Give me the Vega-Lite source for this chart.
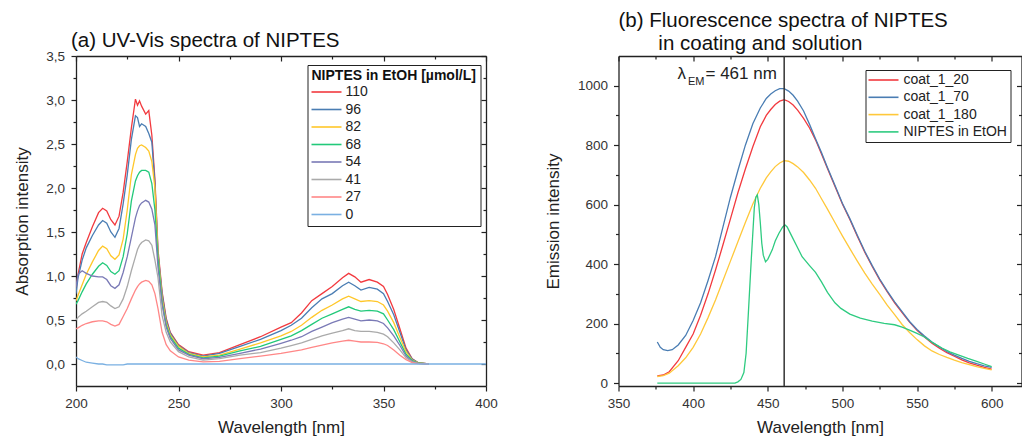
{
  "$schema": "https://vega.github.io/schema/vega-lite/v6.json",
  "padding": {"left": 13, "top": 10, "right": 0, "bottom": 0},
  "background": "white",
  "config": {
    "font": "Liberation Sans",
    "view": {"stroke": null},
    "axis": {"domainColor": "#222", "domainWidth": 1.3, "tickColor": "#222", "tickWidth": 1.2, "labelColor": "#333", "labelFontSize": 13.5, "labelFont": "Liberation Sans", "titleFont": "Liberation Sans", "titleFontSize": 17, "titleFontWeight": "normal", "titleColor": "#222", "grid": false, "labelFlush": false, "labelOverlap": false, "labelBound": false},
    "title": {"font": "Liberation Sans", "fontSize": 20.5, "fontWeight": "normal", "color": "#111", "anchor": "start", "baseline": "bottom"},
    "legend": {"labelFont": "Liberation Sans", "titleFont": "Liberation Sans"}
  },
  "datasets": {
    "uv": [
      {"w": 200, "110": 0.85, "96": 0.80, "82": 0.72, "68": 0.68, "54": 0.88, "41": 0.50, "27": 0.40, "0": 0.08},
      {"w": 201, "110": 1.02, "96": 0.98, "82": 0.78, "68": 0.72, "54": 1.02, "41": 0.53, "27": 0.41, "0": 0.06},
      {"w": 203, "110": 1.25, "96": 1.18, "82": 0.90, "68": 0.82, "54": 1.06, "41": 0.57, "27": 0.44, "0": 0.04},
      {"w": 205, "110": 1.38, "96": 1.32, "82": 1.02, "68": 0.91, "54": 1.03, "41": 0.60, "27": 0.46, "0": 0.02},
      {"w": 208, "110": 1.56, "96": 1.46, "82": 1.16, "68": 1.02, "54": 1.00, "41": 0.65, "27": 0.48, "0": 0.01},
      {"w": 211, "110": 1.72, "96": 1.58, "82": 1.29, "68": 1.11, "54": 0.99, "41": 0.70, "27": 0.49, "0": 0.0},
      {"w": 213, "110": 1.77, "96": 1.63, "82": 1.34, "68": 1.15, "54": 0.99, "41": 0.71, "27": 0.49, "0": 0.0},
      {"w": 215, "110": 1.74, "96": 1.60, "82": 1.31, "68": 1.12, "54": 0.96, "41": 0.70, "27": 0.48, "0": -0.01},
      {"w": 217, "110": 1.64, "96": 1.50, "82": 1.23, "68": 1.05, "54": 0.89, "41": 0.66, "27": 0.45, "0": -0.01},
      {"w": 219, "110": 1.58, "96": 1.44, "82": 1.19, "68": 1.02, "54": 0.86, "41": 0.63, "27": 0.43, "0": -0.01},
      {"w": 221, "110": 1.68, "96": 1.54, "82": 1.24, "68": 1.06, "54": 0.90, "41": 0.65, "27": 0.45, "0": -0.01},
      {"w": 223, "110": 1.95, "96": 1.82, "82": 1.42, "68": 1.22, "54": 1.04, "41": 0.74, "27": 0.54, "0": -0.01},
      {"w": 225, "110": 2.30, "96": 2.15, "82": 1.75, "68": 1.48, "54": 1.22, "41": 0.88, "27": 0.63, "0": 0},
      {"w": 227, "110": 2.68, "96": 2.55, "82": 2.15, "68": 1.85, "54": 1.44, "41": 1.06, "27": 0.74, "0": 0},
      {"w": 229, "110": 3.01, "96": 2.82, "82": 2.38, "68": 2.08, "54": 1.66, "41": 1.22, "27": 0.84, "0": 0},
      {"w": 230, "110": 2.94, "96": 2.80, "82": 2.45, "68": 2.14, "54": 1.74, "41": 1.30, "27": 0.88, "0": 0},
      {"w": 231, "110": 2.99, "96": 2.70, "82": 2.48, "68": 2.18, "54": 1.80, "41": 1.35, "27": 0.91, "0": 0},
      {"w": 232, "110": 2.93, "96": 2.73, "82": 2.49, "68": 2.20, "54": 1.83, "41": 1.38, "27": 0.93, "0": 0},
      {"w": 234, "110": 2.84, "96": 2.70, "82": 2.46, "68": 2.20, "54": 1.86, "41": 1.41, "27": 0.95, "0": 0},
      {"w": 235.5, "110": 2.88, "96": 2.62, "82": 2.42, "68": 2.18, "54": 1.84, "41": 1.40, "27": 0.94, "0": 0},
      {"w": 237, "110": 2.60, "96": 2.52, "82": 2.30, "68": 2.05, "54": 1.76, "41": 1.35, "27": 0.90, "0": 0},
      {"w": 238.5, "110": 2.10, "96": 2.05, "82": 2.00, "68": 1.75, "54": 1.58, "41": 1.18, "27": 0.80, "0": 0},
      {"w": 240, "110": 1.30, "96": 1.26, "82": 1.24, "68": 1.20, "54": 1.10, "41": 0.98, "27": 0.63, "0": 0},
      {"w": 242, "110": 0.82, "96": 0.80, "82": 0.75, "68": 0.70, "54": 0.68, "41": 0.55, "27": 0.36, "0": 0},
      {"w": 244, "110": 0.52, "96": 0.50, "82": 0.47, "68": 0.44, "54": 0.42, "41": 0.36, "27": 0.22, "0": 0},
      {"w": 246, "110": 0.36, "96": 0.35, "82": 0.33, "68": 0.31, "54": 0.29, "41": 0.25, "27": 0.15, "0": 0},
      {"w": 250, "110": 0.22, "96": 0.21, "82": 0.20, "68": 0.18, "54": 0.16, "41": 0.14, "27": 0.08, "0": 0},
      {"w": 255, "110": 0.14, "96": 0.13, "82": 0.12, "68": 0.11, "54": 0.10, "41": 0.08, "27": 0.045, "0": 0},
      {"w": 262, "110": 0.10, "96": 0.09, "82": 0.08, "68": 0.07, "54": 0.06, "41": 0.045, "27": 0.025, "0": 0},
      {"w": 270, "110": 0.13, "96": 0.12, "82": 0.10, "68": 0.09, "54": 0.075, "41": 0.06, "27": 0.03, "0": 0},
      {"w": 280, "110": 0.22, "96": 0.20, "82": 0.17, "68": 0.15, "54": 0.12, "41": 0.10, "27": 0.06, "0": 0},
      {"w": 290, "110": 0.31, "96": 0.28, "82": 0.24, "68": 0.20, "54": 0.17, "41": 0.13, "27": 0.09, "0": 0},
      {"w": 300, "110": 0.42, "96": 0.38, "82": 0.32, "68": 0.28, "54": 0.235, "41": 0.18, "27": 0.12, "0": 0},
      {"w": 305, "110": 0.47, "96": 0.44, "82": 0.37, "68": 0.32, "54": 0.27, "41": 0.21, "27": 0.14, "0": 0},
      {"w": 310, "110": 0.58, "96": 0.52, "82": 0.44, "68": 0.38, "54": 0.31, "41": 0.24, "27": 0.16, "0": 0},
      {"w": 315, "110": 0.72, "96": 0.64, "82": 0.53, "68": 0.45, "54": 0.37, "41": 0.28, "27": 0.19, "0": 0},
      {"w": 320, "110": 0.80, "96": 0.74, "82": 0.61, "68": 0.52, "54": 0.42, "41": 0.32, "27": 0.215, "0": 0},
      {"w": 325, "110": 0.88, "96": 0.80, "82": 0.67, "68": 0.57, "54": 0.47, "41": 0.35, "27": 0.24, "0": 0},
      {"w": 330, "110": 0.98, "96": 0.89, "82": 0.74, "68": 0.62, "54": 0.51, "41": 0.38, "27": 0.26, "0": 0},
      {"w": 333, "110": 1.03, "96": 0.93, "82": 0.77, "68": 0.65, "54": 0.53, "41": 0.40, "27": 0.27, "0": 0},
      {"w": 336, "110": 0.99, "96": 0.89, "82": 0.74, "68": 0.62, "54": 0.51, "41": 0.38, "27": 0.26, "0": 0},
      {"w": 339, "110": 0.93, "96": 0.84, "82": 0.71, "68": 0.60, "54": 0.49, "41": 0.37, "27": 0.25, "0": 0},
      {"w": 343, "110": 0.96, "96": 0.87, "82": 0.72, "68": 0.61, "54": 0.50, "41": 0.37, "27": 0.25, "0": 0},
      {"w": 347, "110": 0.93, "96": 0.85, "82": 0.71, "68": 0.60, "54": 0.49, "41": 0.36, "27": 0.245, "0": 0},
      {"w": 350, "110": 0.88, "96": 0.80, "82": 0.67, "68": 0.57, "54": 0.46, "41": 0.34, "27": 0.23, "0": 0},
      {"w": 352, "110": 0.79, "96": 0.71, "82": 0.60, "68": 0.50, "54": 0.41, "41": 0.31, "27": 0.21, "0": 0},
      {"w": 355, "110": 0.62, "96": 0.56, "82": 0.47, "68": 0.39, "54": 0.32, "41": 0.24, "27": 0.16, "0": 0},
      {"w": 358, "110": 0.40, "96": 0.36, "82": 0.30, "68": 0.25, "54": 0.21, "41": 0.16, "27": 0.10, "0": 0},
      {"w": 361, "110": 0.18, "96": 0.16, "82": 0.14, "68": 0.11, "54": 0.09, "41": 0.07, "27": 0.05, "0": 0},
      {"w": 364, "110": 0.06, "96": 0.055, "82": 0.045, "68": 0.04, "54": 0.03, "41": 0.025, "27": 0.015, "0": 0},
      {"w": 367, "110": 0.015, "96": 0.014, "82": 0.012, "68": 0.01, "54": 0.008, "41": 0.006, "27": 0.004, "0": 0},
      {"w": 372, "110": 0, "96": 0, "82": 0, "68": 0, "54": 0, "41": 0, "27": 0, "0": 0},
      {"w": 400, "110": null, "96": null, "82": null, "68": null, "54": null, "41": null, "27": null, "0": 0}
    ],
    "fl": [
      {"s": "coat_1_20", "w": 376, "v": 24}, {"s": "coat_1_20", "w": 380, "v": 27}, {"s": "coat_1_20", "w": 384, "v": 38}, {"s": "coat_1_20", "w": 390, "v": 75}, {"s": "coat_1_20", "w": 395, "v": 120}, {"s": "coat_1_20", "w": 400, "v": 165}, {"s": "coat_1_20", "w": 405, "v": 228}, {"s": "coat_1_20", "w": 410, "v": 300}, {"s": "coat_1_20", "w": 415, "v": 380}, {"s": "coat_1_20", "w": 420, "v": 465}, {"s": "coat_1_20", "w": 425, "v": 552}, {"s": "coat_1_20", "w": 430, "v": 640}, {"s": "coat_1_20", "w": 435, "v": 720}, {"s": "coat_1_20", "w": 440, "v": 795}, {"s": "coat_1_20", "w": 445, "v": 862}, {"s": "coat_1_20", "w": 449, "v": 900}, {"s": "coat_1_20", "w": 452, "v": 920}, {"s": "coat_1_20", "w": 455, "v": 937}, {"s": "coat_1_20", "w": 458, "v": 948}, {"s": "coat_1_20", "w": 461, "v": 953}, {"s": "coat_1_20", "w": 464, "v": 947}, {"s": "coat_1_20", "w": 467, "v": 935}, {"s": "coat_1_20", "w": 470, "v": 918}, {"s": "coat_1_20", "w": 474, "v": 890}, {"s": "coat_1_20", "w": 478, "v": 858}, {"s": "coat_1_20", "w": 482, "v": 818}, {"s": "coat_1_20", "w": 486, "v": 770}, {"s": "coat_1_20", "w": 490, "v": 722}, {"s": "coat_1_20", "w": 495, "v": 662}, {"s": "coat_1_20", "w": 500, "v": 602}, {"s": "coat_1_20", "w": 505, "v": 550}, {"s": "coat_1_20", "w": 510, "v": 494}, {"s": "coat_1_20", "w": 515, "v": 440}, {"s": "coat_1_20", "w": 520, "v": 392}, {"s": "coat_1_20", "w": 525, "v": 347}, {"s": "coat_1_20", "w": 530, "v": 307}, {"s": "coat_1_20", "w": 535, "v": 270}, {"s": "coat_1_20", "w": 540, "v": 237}, {"s": "coat_1_20", "w": 545, "v": 205}, {"s": "coat_1_20", "w": 550, "v": 177}, {"s": "coat_1_20", "w": 555, "v": 155}, {"s": "coat_1_20", "w": 560, "v": 134}, {"s": "coat_1_20", "w": 565, "v": 117}, {"s": "coat_1_20", "w": 570, "v": 102}, {"s": "coat_1_20", "w": 575, "v": 90}, {"s": "coat_1_20", "w": 580, "v": 78}, {"s": "coat_1_20", "w": 585, "v": 68}, {"s": "coat_1_20", "w": 590, "v": 60}, {"s": "coat_1_20", "w": 595, "v": 53}, {"s": "coat_1_20", "w": 600, "v": 47},
      {"s": "coat_1_70", "w": 376, "v": 138}, {"s": "coat_1_70", "w": 378, "v": 120}, {"s": "coat_1_70", "w": 380, "v": 112}, {"s": "coat_1_70", "w": 383, "v": 109}, {"s": "coat_1_70", "w": 386, "v": 112}, {"s": "coat_1_70", "w": 390, "v": 128}, {"s": "coat_1_70", "w": 395, "v": 160}, {"s": "coat_1_70", "w": 400, "v": 210}, {"s": "coat_1_70", "w": 405, "v": 270}, {"s": "coat_1_70", "w": 410, "v": 345}, {"s": "coat_1_70", "w": 415, "v": 425}, {"s": "coat_1_70", "w": 420, "v": 525}, {"s": "coat_1_70", "w": 425, "v": 625}, {"s": "coat_1_70", "w": 430, "v": 715}, {"s": "coat_1_70", "w": 435, "v": 800}, {"s": "coat_1_70", "w": 440, "v": 872}, {"s": "coat_1_70", "w": 445, "v": 925}, {"s": "coat_1_70", "w": 449, "v": 957}, {"s": "coat_1_70", "w": 452, "v": 972}, {"s": "coat_1_70", "w": 455, "v": 983}, {"s": "coat_1_70", "w": 458, "v": 990}, {"s": "coat_1_70", "w": 461, "v": 990}, {"s": "coat_1_70", "w": 464, "v": 982}, {"s": "coat_1_70", "w": 467, "v": 968}, {"s": "coat_1_70", "w": 470, "v": 948}, {"s": "coat_1_70", "w": 474, "v": 915}, {"s": "coat_1_70", "w": 478, "v": 870}, {"s": "coat_1_70", "w": 482, "v": 822}, {"s": "coat_1_70", "w": 486, "v": 775}, {"s": "coat_1_70", "w": 490, "v": 725}, {"s": "coat_1_70", "w": 495, "v": 665}, {"s": "coat_1_70", "w": 500, "v": 605}, {"s": "coat_1_70", "w": 505, "v": 553}, {"s": "coat_1_70", "w": 510, "v": 497}, {"s": "coat_1_70", "w": 515, "v": 443}, {"s": "coat_1_70", "w": 520, "v": 395}, {"s": "coat_1_70", "w": 525, "v": 350}, {"s": "coat_1_70", "w": 530, "v": 310}, {"s": "coat_1_70", "w": 535, "v": 273}, {"s": "coat_1_70", "w": 540, "v": 240}, {"s": "coat_1_70", "w": 545, "v": 207}, {"s": "coat_1_70", "w": 550, "v": 180}, {"s": "coat_1_70", "w": 555, "v": 158}, {"s": "coat_1_70", "w": 560, "v": 138}, {"s": "coat_1_70", "w": 565, "v": 121}, {"s": "coat_1_70", "w": 570, "v": 106}, {"s": "coat_1_70", "w": 575, "v": 94}, {"s": "coat_1_70", "w": 580, "v": 83}, {"s": "coat_1_70", "w": 585, "v": 73}, {"s": "coat_1_70", "w": 590, "v": 65}, {"s": "coat_1_70", "w": 595, "v": 58}, {"s": "coat_1_70", "w": 600, "v": 53},
      {"s": "coat_1_180", "w": 376, "v": 22}, {"s": "coat_1_180", "w": 380, "v": 25}, {"s": "coat_1_180", "w": 384, "v": 33}, {"s": "coat_1_180", "w": 390, "v": 58}, {"s": "coat_1_180", "w": 395, "v": 85}, {"s": "coat_1_180", "w": 400, "v": 120}, {"s": "coat_1_180", "w": 405, "v": 165}, {"s": "coat_1_180", "w": 410, "v": 220}, {"s": "coat_1_180", "w": 415, "v": 279}, {"s": "coat_1_180", "w": 420, "v": 345}, {"s": "coat_1_180", "w": 425, "v": 410}, {"s": "coat_1_180", "w": 430, "v": 475}, {"s": "coat_1_180", "w": 435, "v": 540}, {"s": "coat_1_180", "w": 440, "v": 602}, {"s": "coat_1_180", "w": 445, "v": 655}, {"s": "coat_1_180", "w": 449, "v": 690}, {"s": "coat_1_180", "w": 452, "v": 710}, {"s": "coat_1_180", "w": 455, "v": 728}, {"s": "coat_1_180", "w": 458, "v": 740}, {"s": "coat_1_180", "w": 461, "v": 748}, {"s": "coat_1_180", "w": 464, "v": 746}, {"s": "coat_1_180", "w": 467, "v": 738}, {"s": "coat_1_180", "w": 470, "v": 727}, {"s": "coat_1_180", "w": 474, "v": 708}, {"s": "coat_1_180", "w": 478, "v": 683}, {"s": "coat_1_180", "w": 482, "v": 655}, {"s": "coat_1_180", "w": 486, "v": 620}, {"s": "coat_1_180", "w": 490, "v": 585}, {"s": "coat_1_180", "w": 495, "v": 540}, {"s": "coat_1_180", "w": 500, "v": 495}, {"s": "coat_1_180", "w": 505, "v": 452}, {"s": "coat_1_180", "w": 510, "v": 410}, {"s": "coat_1_180", "w": 515, "v": 370}, {"s": "coat_1_180", "w": 520, "v": 333}, {"s": "coat_1_180", "w": 525, "v": 298}, {"s": "coat_1_180", "w": 530, "v": 262}, {"s": "coat_1_180", "w": 535, "v": 230}, {"s": "coat_1_180", "w": 540, "v": 197}, {"s": "coat_1_180", "w": 545, "v": 170}, {"s": "coat_1_180", "w": 550, "v": 146}, {"s": "coat_1_180", "w": 555, "v": 125}, {"s": "coat_1_180", "w": 560, "v": 108}, {"s": "coat_1_180", "w": 565, "v": 96}, {"s": "coat_1_180", "w": 570, "v": 86}, {"s": "coat_1_180", "w": 575, "v": 77}, {"s": "coat_1_180", "w": 580, "v": 69}, {"s": "coat_1_180", "w": 585, "v": 62}, {"s": "coat_1_180", "w": 590, "v": 55}, {"s": "coat_1_180", "w": 595, "v": 49}, {"s": "coat_1_180", "w": 600, "v": 44},
      {"s": "NIPTES in EtOH", "w": 376, "v": 0}, {"s": "NIPTES in EtOH", "w": 400, "v": 0}, {"s": "NIPTES in EtOH", "w": 420, "v": 0}, {"s": "NIPTES in EtOH", "w": 428, "v": 0}, {"s": "NIPTES in EtOH", "w": 430, "v": 4}, {"s": "NIPTES in EtOH", "w": 432, "v": 12}, {"s": "NIPTES in EtOH", "w": 434, "v": 35}, {"s": "NIPTES in EtOH", "w": 435.5, "v": 100}, {"s": "NIPTES in EtOH", "w": 437, "v": 235}, {"s": "NIPTES in EtOH", "w": 439, "v": 420}, {"s": "NIPTES in EtOH", "w": 441, "v": 590}, {"s": "NIPTES in EtOH", "w": 442, "v": 625}, {"s": "NIPTES in EtOH", "w": 443, "v": 633}, {"s": "NIPTES in EtOH", "w": 444, "v": 600}, {"s": "NIPTES in EtOH", "w": 445, "v": 540}, {"s": "NIPTES in EtOH", "w": 446, "v": 470}, {"s": "NIPTES in EtOH", "w": 447, "v": 430}, {"s": "NIPTES in EtOH", "w": 448.5, "v": 408}, {"s": "NIPTES in EtOH", "w": 450, "v": 416}, {"s": "NIPTES in EtOH", "w": 453, "v": 448}, {"s": "NIPTES in EtOH", "w": 455, "v": 478}, {"s": "NIPTES in EtOH", "w": 457.5, "v": 504}, {"s": "NIPTES in EtOH", "w": 460, "v": 525}, {"s": "NIPTES in EtOH", "w": 461.5, "v": 532}, {"s": "NIPTES in EtOH", "w": 463, "v": 525}, {"s": "NIPTES in EtOH", "w": 466, "v": 495}, {"s": "NIPTES in EtOH", "w": 470, "v": 455}, {"s": "NIPTES in EtOH", "w": 473, "v": 425}, {"s": "NIPTES in EtOH", "w": 478, "v": 395}, {"s": "NIPTES in EtOH", "w": 482, "v": 372}, {"s": "NIPTES in EtOH", "w": 486, "v": 340}, {"s": "NIPTES in EtOH", "w": 490, "v": 305}, {"s": "NIPTES in EtOH", "w": 495, "v": 270}, {"s": "NIPTES in EtOH", "w": 499, "v": 251}, {"s": "NIPTES in EtOH", "w": 505, "v": 232}, {"s": "NIPTES in EtOH", "w": 512, "v": 218}, {"s": "NIPTES in EtOH", "w": 520, "v": 208}, {"s": "NIPTES in EtOH", "w": 528, "v": 201}, {"s": "NIPTES in EtOH", "w": 535, "v": 196}, {"s": "NIPTES in EtOH", "w": 540, "v": 188}, {"s": "NIPTES in EtOH", "w": 545, "v": 178}, {"s": "NIPTES in EtOH", "w": 550, "v": 167}, {"s": "NIPTES in EtOH", "w": 555, "v": 155}, {"s": "NIPTES in EtOH", "w": 561, "v": 134}, {"s": "NIPTES in EtOH", "w": 567, "v": 117}, {"s": "NIPTES in EtOH", "w": 572, "v": 105}, {"s": "NIPTES in EtOH", "w": 578, "v": 94}, {"s": "NIPTES in EtOH", "w": 584, "v": 83}, {"s": "NIPTES in EtOH", "w": 590, "v": 73}, {"s": "NIPTES in EtOH", "w": 595, "v": 64}, {"s": "NIPTES in EtOH", "w": 600, "v": 55}
    ],
    "lam": [{"w": 389.5, "v": 1021, "t": "λ"}],
    "sub": [{"w": 396.5, "v": 1002, "t": "EM"}],
    "eq": [{"w": 408.3, "v": 1021, "t": "= 461 nm"}],
    "line461": [{"w": 461}]
  },
  "bounds": "flush",
  "spacing": 132.5,
  "resolve": {"scale": {"color": "independent", "x": "independent", "y": "independent"}, "legend": {"color": "independent"}},
  "hconcat": [
    {
      "width": 410,
      "height": 330,
      "title": {"text": "(a) UV-Vis spectra of NIPTES", "offset": -2, "dx": -5, "frame": "group"},
      "layer": [
        {
          "data": {"name": "uv"},
          "transform": [{"fold": ["110", "96", "82", "68", "54", "41", "27", "0"], "as": ["conc", "a"]}],
          "mark": {"type": "line", "strokeWidth": 1.3, "clip": true},
          "encoding": {
            "x": {"field": "w", "type": "quantitative", "scale": {"domain": [200, 400], "nice": false, "zero": false},
              "axis": {"orient": "bottom", "title": "Wavelength [nm]", "values": [200, 225, 250, 275, 300, 325, 350, 375, 400],
                "tickSize": {"condition": {"test": "datum.value % 50 != 0", "value": 3}, "value": 5},
                "labelExpr": "datum.value % 50 == 0 ? datum.label : ''", "labelPadding": 5, "titlePadding": 10}},
            "y": {"field": "a", "type": "quantitative", "scale": {"domain": [-0.25, 3.5], "nice": false, "zero": false},
              "axis": {"orient": "left", "title": "Absorption intensity", "values": [0, 0.25, 0.5, 0.75, 1, 1.25, 1.5, 1.75, 2, 2.25, 2.5, 2.75, 3, 3.25, 3.5],
                "tickSize": {"condition": {"test": "abs(datum.value*2 - round(datum.value*2)) > 0.01", "value": 3}, "value": 5},
                "labelExpr": "abs(datum.value*2 - round(datum.value*2)) > 0.01 ? '' : replace(format(datum.value, '.1f'), '.', ',')",
                "labelPadding": 6.5, "titlePadding": 14}},
            "color": {"field": "conc", "type": "nominal",
              "scale": {"domain": ["110", "96", "82", "68", "54", "41", "27", "0"], "range": ["#f23a3f", "#4a7db3", "#ffc72a", "#22c97a", "#7a7ab6", "#aaaaaa", "#ff8787", "#7ab0e2"]},
              "legend": {"orient": "none", "legendX": 231.5, "legendY": 9, "title": "NIPTES in EtOH [µmol/L]", "titleFontSize": 14, "titleFontWeight": "bold", "titleColor": "#111", "titlePadding": 2,
                "labelFontSize": 14, "labelColor": "#222", "symbolType": "M0,0H6", "symbolSize": 100, "symbolStrokeWidth": 1.6, "symbolOffset": -7, "labelOffset": 27,
                "rowPadding": 3.5, "strokeColor": "#222", "fillColor": "white", "padding": 4}}
          }
        },
        {
          "data": {"name": "uv"},
          "mark": {"type": "line", "strokeOpacity": 0},
          "encoding": {
            "x": {"field": "w", "type": "quantitative", "scale": {"domain": [200, 400], "nice": false, "zero": false},
              "axis": {"orient": "top", "title": null, "labels": false, "values": [200, 225, 250, 275, 300, 325, 350, 375, 400],
                "tickSize": {"condition": {"test": "datum.value % 50 != 0", "value": -3}, "value": -5}}},
            "y": {"field": "0", "type": "quantitative", "scale": {"domain": [-0.25, 3.5], "nice": false, "zero": false},
              "axis": {"orient": "right", "title": null, "labels": false, "values": [0, 0.25, 0.5, 0.75, 1, 1.25, 1.5, 1.75, 2, 2.25, 2.5, 2.75, 3, 3.25, 3.5],
                "tickSize": {"condition": {"test": "abs(datum.value*2 - round(datum.value*2)) > 0.01", "value": -3}, "value": -5}}}
          }
        }
      ]
    },
    {
      "width": 403,
      "height": 330,
      "title": {"text": ["(b) Fluorescence spectra of NIPTES", "\u200b\u00a0\u00a0\u00a0\u00a0\u00a0\u00a0\u00a0in coating and solution"], "offset": 1, "lineHeight": 23, "frame": "group"},
      "layer": [
        {
          "data": {"name": "fl"},
          "mark": {"type": "line", "strokeWidth": 1.3, "clip": true},
          "encoding": {
            "x": {"field": "w", "type": "quantitative", "scale": {"domain": [350, 620], "nice": false, "zero": false},
              "axis": {"orient": "bottom", "title": "Wavelength [nm]", "values": [350, 375, 400, 425, 450, 475, 500, 525, 550, 575, 600],
                "tickSize": {"condition": {"test": "datum.value % 50 != 0", "value": 3}, "value": 5},
                "labelExpr": "datum.value % 50 == 0 ? datum.label : ''", "labelPadding": 5, "titlePadding": 10}},
            "y": {"field": "v", "type": "quantitative", "scale": {"domain": [-10, 1100], "nice": false, "zero": false},
              "axis": {"orient": "left", "title": "Emission intensity", "values": [0, 100, 200, 300, 400, 500, 600, 700, 800, 900, 1000],
                "tickSize": {"condition": {"test": "datum.value % 200 != 0", "value": 3}, "value": 5},
                "labelExpr": "datum.value % 200 == 0 ? datum.label : ''", "format": "d", "labelPadding": 6, "titlePadding": 15}},
            "color": {"field": "s", "type": "nominal",
              "scale": {"domain": ["coat_1_20", "coat_1_70", "coat_1_180", "NIPTES in EtOH"], "range": ["#f23a3f", "#4a7db3", "#ffc83a", "#2ecb80"]},
              "legend": {"orient": "none", "legendX": 247, "legendY": 14, "title": null,
                "labelFontSize": 14, "labelColor": "#222", "symbolType": "M0,0H6", "symbolSize": 100, "symbolStrokeWidth": 1.6, "symbolOffset": -7, "labelOffset": 28,
                "rowPadding": 3.3, "strokeColor": "#222", "fillColor": "white", "padding": 3}}
          }
        },
        {
          "data": {"name": "fl"},
          "mark": {"type": "line", "strokeOpacity": 0},
          "encoding": {
            "x": {"field": "w", "type": "quantitative", "scale": {"domain": [350, 620], "nice": false, "zero": false},
              "axis": {"orient": "top", "title": null, "labels": false, "values": [350, 375, 400, 425, 450, 475, 500, 525, 550, 575, 600],
                "tickSize": {"condition": {"test": "datum.value % 50 != 0", "value": -3}, "value": -5}}},
            "y": {"field": "v", "type": "quantitative", "scale": {"domain": [-10, 1100], "nice": false, "zero": false},
              "axis": {"orient": "right", "title": null, "labels": false, "values": [0, 100, 200, 300, 400, 500, 600, 700, 800, 900, 1000],
                "tickSize": {"condition": {"test": "datum.value % 200 != 0", "value": -3}, "value": -5}}}
          }
        },
        {
          "data": {"name": "line461"},
          "mark": {"type": "rule", "color": "#333", "strokeWidth": 1.5},
          "encoding": {"x": {"field": "w", "type": "quantitative", "axis": null}}
        },
        {
          "data": {"name": "lam"},
          "mark": {"type": "text", "align": "left", "baseline": "alphabetic", "fontSize": 17, "color": "#222"},
          "encoding": {"x": {"field": "w", "type": "quantitative", "axis": null}, "y": {"field": "v", "type": "quantitative", "axis": null}, "text": {"field": "t"}}
        },
        {
          "data": {"name": "sub"},
          "mark": {"type": "text", "align": "left", "baseline": "alphabetic", "fontSize": 11, "color": "#222"},
          "encoding": {"x": {"field": "w", "type": "quantitative", "axis": null}, "y": {"field": "v", "type": "quantitative", "axis": null}, "text": {"field": "t"}}
        },
        {
          "data": {"name": "eq"},
          "mark": {"type": "text", "align": "left", "baseline": "alphabetic", "fontSize": 17, "color": "#222"},
          "encoding": {"x": {"field": "w", "type": "quantitative", "axis": null}, "y": {"field": "v", "type": "quantitative", "axis": null}, "text": {"field": "t"}}
        }
      ]
    }
  ]
}
